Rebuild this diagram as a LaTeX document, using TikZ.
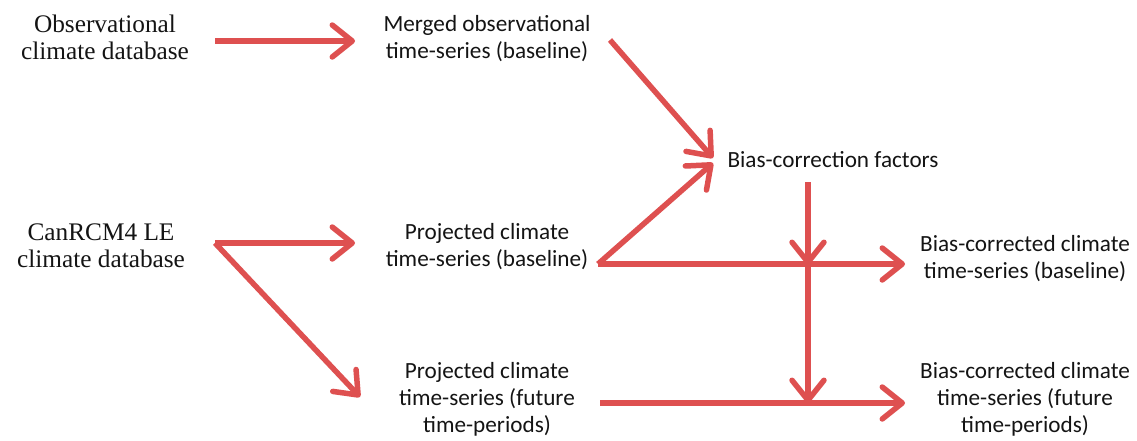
\documentclass[tikz,border=0pt]{standalone}
\usepackage{fontspec}
\newfontfamily\calfont{Carlito}
\newfontfamily\serfont{Liberation Serif}
\usetikzlibrary{arrows.meta}
\definecolor{arr}{RGB}{222,80,80}
\definecolor{txt}{RGB}{20,20,20}
\tikzset{
  ser/.style={align=center, text=txt, inner sep=0pt, font=\serfont\fontsize{25.3}{27}\selectfont},
  cal/.style={align=center, text=txt, inner sep=0pt, font=\calfont\fontsize{23.2}{27}\selectfont},
  flow/.style={draw=arr, line width=5.5pt, -{Straight Barb[length=20pt, width=32pt, line width=5.5pt, round]}},
}
\begin{document}
\begin{tikzpicture}[x=1pt, y=-1pt]
\useasboundingbox (0,0) rectangle (1137,440);
% nodes
\node[ser] (obs) at (105,37) {Observational\\climate database};
\node[cal] (merged) at (487,39) {Merged observational\\time-series (baseline)};
\node[cal] (bcf) at (833,160) {Bias-correction factors};
\node[ser] (can) at (101,246) {CanRCM4 LE\\climate database};
\node[cal] (projb) at (487,247) {Projected climate\\time-series (baseline)};
\node[cal] (bcb) at (1025,259) {Bias-corrected climate\\time-series (baseline)};
\node[cal] (projf) at (487,399) {Projected climate\\time-series (future\\time-periods)};
\node[cal] (bcfut) at (1025,399) {Bias-corrected climate\\time-series (future\\time-periods)};
% connector points
\coordinate (obsout) at (215,41);
\coordinate (mergedin) at (355,41);
\coordinate (mergedout) at (610,40);
\coordinate (bcfin1) at (713,158);
\coordinate (projbout) at (598,264);
\coordinate (bcfin2) at (713,163);
\coordinate (bcbin) at (905,264);
\coordinate (bcfout) at (808,182);
\coordinate (j1) at (808,265);
\coordinate (j2) at (808,403);
\coordinate (projfout) at (600,403);
\coordinate (bcfutin) at (905,403);
\coordinate (canout) at (215,243);
\coordinate (projbin) at (355,243);
\coordinate (projfin) at (360,397);
% connectors
\draw[flow] (obsout) -- (mergedin);
\draw[flow] (mergedout) -- (bcfin1);
\draw[flow] (projbout) -- (bcfin2);
\draw[flow] (projbout) -- (bcbin);
\draw[flow] (bcfout) -- (j1);
\draw[flow] (j1) -- (j2);
\draw[flow] (projfout) -- (bcfutin);
\draw[flow] (canout) -- (projbin);
\draw[flow] (canout) -- (projfin);
\end{tikzpicture}
\end{document}
